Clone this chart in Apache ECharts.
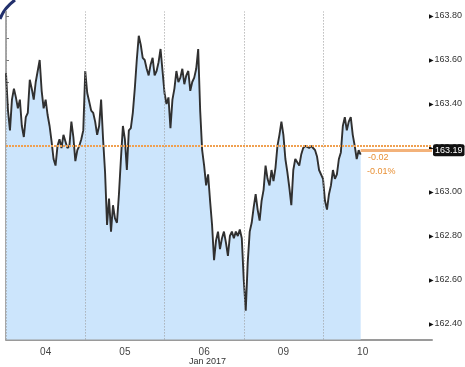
<!DOCTYPE html>
<html>
<head>
<meta charset="utf-8">
<script src="https://cdn.jsdelivr.net/npm/echarts@6/dist/echarts.min.js"></script>
<style>
html,body{margin:0;padding:0;background:#fff;}
#c{width:465px;height:367px;}
</style>
</head>
<body>
<div id="c"></div>
<script>
// ---- data ----
const dayLabels = ['04', '05', '06', '09', '10'];
const periodLabel = 'Jan 2017';
const ptsPerDay = 40;
const day04 = [163.54,163.37,163.28,163.42,163.47,163.43,163.38,163.42,163.30,163.25,163.34,163.36,163.51,163.47,163.42,163.50,163.55,163.60,163.46,163.38,163.42,163.35,163.30,163.23,163.15,163.12,163.21,163.24,163.20,163.26,163.23,163.20,163.21,163.32,163.25,163.14,163.19,163.21,163.24,163.28];
const day05 = [163.55,163.45,163.41,163.37,163.36,163.32,163.26,163.30,163.42,163.24,163.09,162.85,162.97,162.82,162.94,162.88,162.86,162.99,163.15,163.30,163.24,163.10,163.28,163.29,163.36,163.47,163.60,163.71,163.67,163.61,163.60,163.56,163.53,163.58,163.61,163.53,163.55,163.59,163.65,163.55];
const day06 = [163.45,163.40,163.43,163.29,163.42,163.47,163.55,163.50,163.52,163.56,163.49,163.53,163.55,163.46,163.50,163.52,163.56,163.65,163.37,163.19,163.12,163.03,163.08,162.96,162.85,162.69,162.78,162.82,162.74,162.79,162.82,162.77,162.71,162.80,162.82,162.79,162.82,162.80,162.83,162.79];
const day09 = [162.60,162.46,162.68,162.82,162.86,162.93,162.99,162.92,162.87,162.96,163.01,163.12,163.06,163.03,163.10,163.05,163.11,163.21,163.26,163.32,163.26,163.15,163.09,163.02,162.94,163.10,163.15,163.15,163.12,163.17,163.20,163.21,163.21,163.20,163.21,163.20,163.19,163.16,163.10];
const day10 = [163.06,162.96,162.92,162.99,163.03,163.10,163.06,163.08,163.15,163.18,163.30,163.34,163.28,163.32,163.34,163.26,163.21,163.15,163.19,163.17];
const yTickValues = [162.40, 162.60, 162.80, 163.00, 163.20, 163.40, 163.60, 163.80];
const lastPrice = 163.19;
const refLevel = 163.21;
const changeAbs = '-0.02';
const changePct = '-0.01%';

// ---- build ----
const days = [day04, day05, day06, day09, day10];
const seriesData = [];
days.forEach((arr, d) => arr.forEach((v, i) => seriesData.push([d + i / ptsPerDay, v])));
const lastX = seriesData[seriesData.length - 1][0];
const xMax = 5.375;
const narrow = '"Liberation Sans Narrow", "Liberation Sans", Arial, sans-serif';

const chart = echarts.init(document.getElementById('c'), null, {renderer: 'canvas'});
chart.setOption({
  animation: false,
  backgroundColor: '#ffffff',
  grid: [
    {left: 6, right: 33, top: 11.6, bottom: 27.6},
    {left: 6, right: 33, top: 16, bottom: 43}
  ],
  xAxis: [
    {
      gridIndex: 0, type: 'value', min: 0, max: xMax, interval: 0.5,
      axisLine: {show: true, lineStyle: {color: '#9a9a9a', width: 2}},
      axisTick: {show: false},
      splitLine: {show: false},
      axisLabel: {
        margin: 8, fontSize: 10, color: '#444', fontFamily: narrow,
        showMinLabel: true, showMaxLabel: false,
        formatter: v => {
          const k = Math.round(v * 2);
          if (k % 2 === 1) return dayLabels[(k - 1) / 2] || '';
          return '';
        }
      }
    },
    {gridIndex: 1, type: 'value', min: 0, max: 1, show: false}
  ],
  yAxis: [
    {
      gridIndex: 0, type: 'value', position: 'right', min: 162.33, max: 163.82,
      axisLine: {show: true, lineStyle: {color: '#8a8a8a', width: 1.5}},
      axisTick: {show: false}, axisLabel: {show: false}, splitLine: {show: false}
    },
    {
      gridIndex: 1, type: 'value', position: 'right', min: 162.4, max: 163.8, interval: 0.1,
      axisLine: {show: false},
      axisTick: {show: true, length: 3, lineStyle: {color: '#777', width: 1}},
      splitLine: {show: false},
      axisLabel: {
        margin: 0,
        formatter: v => {
          const k = Math.round(v * 10);
          if (k % 2 !== 0) return '';
          const match = yTickValues.find(t => Math.abs(t - v) < 1e-6);
          return match === undefined ? '' : '{t|▶}{v|' + match.toFixed(2) + '}';
        },
        rich: {
          t: {fontSize: 6, color: '#111', padding: [0, 0, 0, 0]},
          v: {fontSize: 9, color: '#333', fontFamily: narrow}
        }
      }
    }
  ],
  series: [
    {
      type: 'line',
      xAxisIndex: 0, yAxisIndex: 0,
      data: seriesData,
      showSymbol: false,
      symbol: 'none',
      lineStyle: {color: '#303030', width: 1.9},
      areaStyle: {color: '#cce5fc', opacity: 1, origin: 'start'},
      z: 3,
      markLine: {
        silent: true,
        symbol: 'none',
        animation: false,
        data: [
          ...[0, 1, 2, 3, 4].map(x => ({xAxis: x, lineStyle: {color: '#999', type: [1, 2], width: 1}, label: {show: false}})),
          {yAxis: refLevel, lineStyle: {color: '#f0a050', type: [2, 1], width: 2}, label: {show: false}},
          [
            {coord: [lastX, lastPrice], lineStyle: {color: '#f3b27a', type: 'solid', width: 3}},
            {coord: [xMax, lastPrice], label: {
              show: true, position: 'end', distance: 1,
              formatter: lastPrice.toFixed(2),
              backgroundColor: '#111', color: '#fff', borderRadius: 2,
              padding: [2, 2, 1, 2], fontSize: 9, fontFamily: narrow
            }}
          ]
        ]
      }
    }
  ],
  graphic: [
    {type: 'text', left: 368, top: 153, style: {text: changeAbs, fill: '#e89035', font: '9px ' + narrow}},
    {type: 'text', left: 367, top: 167, style: {text: changePct, fill: '#e89035', font: '9px ' + narrow}},
    {type: 'text', left: 189, top: 357, style: {text: periodLabel, fill: '#333', font: '9px ' + narrow}},
    {type: 'bezierCurve', shape: {x1: 0, y1: 19, x2: 15, y2: 0, cpx1: 4, cpy1: 8}, style: {stroke: '#22306c', lineWidth: 3, fill: null}}
  ]
});
</script>
</body>
</html>
